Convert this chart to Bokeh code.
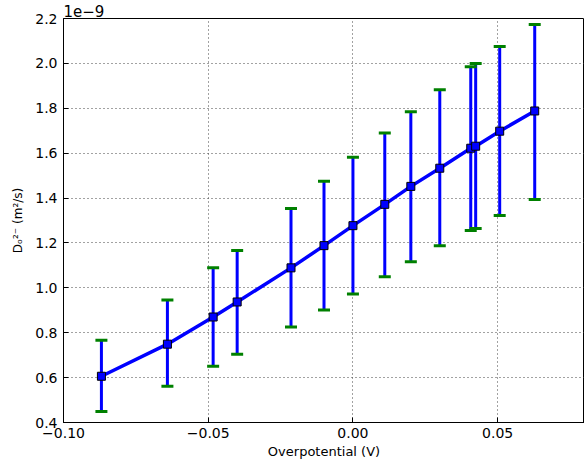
from bokeh.plotting import figure
from bokeh.models import ColumnDataSource, Whisker, TeeHead, FixedTicker, Range1d, CustomJSTickFormatter
from bokeh.embed import file_html
from bokeh.resources import INLINE

overpotential = [-0.0869, -0.0641, -0.0483, -0.0400, -0.0214, -0.0100, 0.0000,
                 0.0110, 0.0200, 0.0300, 0.0407, 0.0424, 0.0507, 0.0628]
diffusivity = [0.606, 0.749, 0.870, 0.937, 1.089, 1.188, 1.277,
               1.372, 1.452, 1.533, 1.622, 1.631, 1.698, 1.788]
err_upper = [0.767, 0.946, 1.089, 1.166, 1.354, 1.475, 1.582,
             1.690, 1.784, 1.882, 1.985, 1.999, 2.075, 2.173]
err_lower = [0.449, 0.561, 0.651, 0.704, 0.825, 0.901, 0.973,
             1.049, 1.116, 1.188, 1.255, 1.264, 1.322, 1.394]
x_ticks = [-0.10, -0.05, 0.00, 0.05]
x_tick_labels = {-0.10: "\u22120.10", -0.05: "\u22120.05", 0.0: "0.00", 0.05: "0.05"}
y_ticks = [0.4, 0.6, 0.8, 1.0, 1.2, 1.4, 1.6, 1.8, 2.0, 2.2]

src = ColumnDataSource(dict(x=overpotential, y=diffusivity, up=err_upper, lo=err_lower))

font = "DejaVu Sans"
p = figure(width=584, height=467, output_backend="svg", toolbar_location=None,
           x_range=Range1d(-0.10, 0.08), y_range=Range1d(0.4, 2.2),
           min_border_left=63, min_border_top=0, min_border_bottom=45, min_border_right=0,
           title="1e\u22129")
p.title.align = "left"
p.title.text_font = font
p.title.text_font_size = "15px"
p.title.text_font_style = "normal"
p.title.text_color = "black"
p.title.standoff = 4
p.title.offset = 0

p.background_fill_color = "white"
p.border_fill_color = "white"
p.outline_line_color = "black"
p.outline_line_width = 1

p.xaxis.ticker = FixedTicker(ticks=x_ticks)
p.xaxis.major_label_overrides = x_tick_labels
p.yaxis.ticker = FixedTicker(ticks=y_ticks)
p.yaxis.formatter = CustomJSTickFormatter(code="return tick.toFixed(1);")
for ax in (p.xaxis[0], p.yaxis[0]):
    ax.major_tick_in = 5
    ax.major_tick_out = 0
    ax.minor_tick_in = 0
    ax.minor_tick_out = 0
    ax.axis_line_color = "black"
    ax.major_tick_line_color = "black"
    ax.major_label_text_font = font
    ax.major_label_text_font_size = "14px"
    ax.major_label_text_color = "black"
    ax.axis_label_text_font = font
    ax.axis_label_text_font_style = "normal"
    ax.axis_label_text_color = "black"
p.xaxis.major_label_standoff = 5
p.yaxis.major_label_standoff = 6
p.xaxis.axis_label = "Overpotential (V)"
p.xaxis.axis_label_text_font_size = "13px"
p.xaxis.axis_label_standoff = 3
p.yaxis.axis_label = "D\u2092\u00b2\u207b (m\u00b2/s)"
p.yaxis.axis_label_text_font_size = "12px"
p.yaxis.axis_label_standoff = 7

p.grid.grid_line_color = "#444444"
p.grid.grid_line_dash = "1 3"
p.grid.grid_line_width = 1

w = Whisker(source=src, base="x", upper="up", lower="lo",
            line_color="blue", line_width=3,
            upper_head=TeeHead(size=12, line_color="green", line_width=3),
            lower_head=TeeHead(size=12, line_color="green", line_width=3))
p.add_layout(w)

p.line("x", "y", source=src, line_color="blue", line_width=3.5)
p.scatter("x", "y", source=src, marker="square", size=8, fill_color="blue",
          line_color="black", line_width=1)

open("out.html", "w").write(file_html(p, INLINE))
